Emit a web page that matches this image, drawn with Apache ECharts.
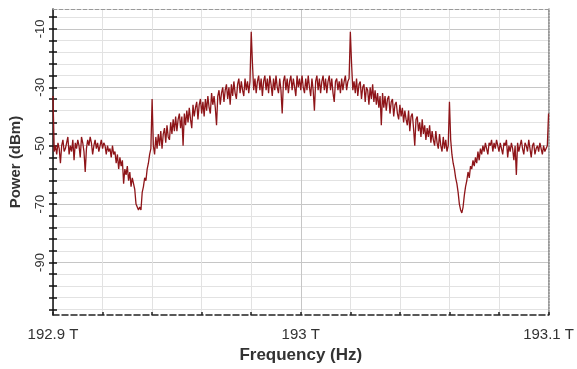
<!DOCTYPE html>
<html>
<head>
<meta charset="utf-8">
<script src="https://cdn.jsdelivr.net/npm/echarts@6/dist/echarts.min.js"></script>
<style>
html,body{margin:0;padding:0;background:#fff;}
#chart{width:577px;height:369px;}
</style>
</head>
<body>
<div id="chart"></div>
<script>
// Spectrum sampled every 0.0005 THz from 192.9 THz to 193.1 THz
const freqStartTHz = 192.9;
const freqStepTHz = 0.0005;
const powerDbm = [
  -33, -52, -50, -53, -49, -51, -56, -50, -48, -52, -51, -49, -47, -53, -50, -52, -48, -55, -49, -51,
  -48, -50, -54, -47, -49, -52, -59, -51, -48, -50, -47, -49, -53, -50, -48, -51, -49, -52, -50, -48,
  -51, -49, -50, -53, -50, -52, -51, -54, -50, -53, -52, -56, -53, -58, -54, -57, -55, -63, -58, -60,
  -57, -62, -59, -64, -61, -63, -65, -70, -71, -72, -71, -72, -66, -64, -61, -62, -58, -56, -53, -51,
  -34, -50, -53, -47, -51, -46, -50, -45, -51, -46, -44, -49, -43, -47, -48, -42, -46, -41, -45, -40,
  -45, -41, -39, -44, -40, -50, -39, -43, -38, -42, -37, -41, -44, -36, -40, -37, -35, -41, -36, -34,
  -39, -35, -40, -34, -38, -33, -37, -39, -32, -36, -33, -37, -43, -33, -31, -36, -32, -30, -35, -31,
  -29, -34, -30, -36, -29, -33, -28, -32, -34, -29, -27, -32, -28, -31, -33, -27, -31, -28, -32, -28,
  -11, -22, -31, -27, -32, -28, -26, -31, -27, -33, -28, -26, -31, -27, -32, -26, -29, -33, -27, -31,
  -26, -30, -32, -27, -31, -39, -28, -26, -31, -27, -32, -28, -26, -31, -27, -30, -33, -26, -30, -27,
  -31, -26, -30, -32, -27, -31, -26, -30, -33, -27, -31, -38, -28, -26, -31, -27, -32, -28, -26, -31,
  -27, -32, -28, -26, -31, -27, -32, -35, -28, -27, -31, -28, -32, -27, -31, -28, -26, -31, -28, -27,
  -11, -22, -31, -28, -32, -27, -33, -29, -28, -34, -30, -29, -35, -30, -31, -36, -30, -34, -29, -35,
  -31, -36, -32, -37, -33, -43, -32, -37, -33, -38, -34, -33, -39, -35, -34, -40, -36, -35, -39, -41,
  -36, -40, -37, -42, -38, -41, -43, -38, -45, -40, -39, -44, -50, -41, -40, -45, -42, -47, -41, -46,
  -43, -48, -44, -47, -43, -49, -45, -48, -50, -45, -49, -51, -46, -50, -52, -47, -51, -48, -52, -50,
  -35, -48, -53, -56, -58, -61, -63, -66, -70, -72, -73, -71, -67, -64, -62, -59, -61, -57, -58, -55,
  -57, -54, -56, -52, -55, -51, -53, -50, -52, -49, -51, -53, -49, -50, -48, -52, -49, -51, -48, -50,
  -52, -49, -51, -53, -49, -50, -48, -54, -50, -52, -49, -51, -55, -50, -60, -49, -52, -50, -48, -51,
  -53, -49, -50, -52, -48, -51, -54, -50, -49, -53, -51, -50, -52, -49, -51, -53, -50, -52, -51, -50,
  -39
];
const xTickValues = [192.9, 192.92, 192.94, 192.96, 192.98, 193.0, 193.02, 193.04, 193.06, 193.08, 193.1];
const xLabelValues = [192.9, 193.0, 193.1];
const yTickValues = [-106, -102, -98, -94, -90, -86, -82, -78, -74, -70, -66, -62, -58, -54, -50, -46, -42, -38, -34, -30, -26, -22, -18, -14, -10, -6];
const yLabelValues = [-90, -70, -50, -30, -10];

const seriesData = powerDbm.map((v, i) => [+(freqStartTHz + i * freqStepTHz).toFixed(5), v]);

const FONT = 'Liberation Sans, Arial, sans-serif';
const yMin = -108, yMax = -3.2;

const chart = echarts.init(document.getElementById('chart'), null, {renderer: 'canvas'});
chart.setOption({
  animation: false,
  backgroundColor: '#ffffff',
  grid: {left: 52, right: 24, top: 9, bottom: 50, containLabel: false},
  xAxis: [{
    type: 'value',
    min: 192.9, max: 193.1,
    position: 'bottom',
    axisLine: {show: true, onZero: false, lineStyle: {color: '#222', type: 'dashed', width: 1.5}},
    axisTick: {show: true, inside: true, length: 3, customValues: xTickValues, lineStyle: {color: '#222', width: 1.5}},
    axisLabel: {show: true, customValues: xLabelValues, margin: 12, fontSize: 15, fontFamily: FONT, color: '#333',
      formatter: v => (Math.round(v * 10) / 10) + ' T'},
    splitLine: {show: true, lineStyle: {color: ['#c6c6c6', '#e2e2e2', '#e2e2e2', '#e2e2e2', '#e2e2e2'], width: 1}},
    name: 'Frequency (Hz)', nameLocation: 'middle', nameGap: 31,
    nameTextStyle: {fontSize: 17, fontWeight: 'bold', fontFamily: FONT, color: '#333'}
  }, {
    type: 'value',
    min: 192.9, max: 193.1,
    position: 'top',
    axisLine: {show: true, onZero: false, lineStyle: {color: '#999', type: 'dashed', width: 1}},
    axisTick: {show: false}, axisLabel: {show: false}, splitLine: {show: false}
  }],
  yAxis: [{
    type: 'value',
    min: yMin, max: yMax,
    position: 'left',
    axisLine: {show: true, onZero: false, lineStyle: {color: '#111', width: 1.5}},
    axisTick: {show: true, length: 4, customValues: yTickValues, lineStyle: {color: '#111', width: 1.5}},
    axisLabel: {show: true, customValues: yLabelValues, rotate: 90, margin: 6, fontSize: 13, fontFamily: FONT, color: '#333'},
    splitLine: {show: true, lineStyle: {color: ['#e2e2e2', '#e2e2e2', '#e2e2e2', '#e2e2e2', '#c6c6c6'], width: 1}},
    name: 'Power (dBm)', nameLocation: 'middle', nameGap: 30,
    nameTextStyle: {fontSize: 15, fontWeight: 'bold', fontFamily: FONT, color: '#333'}
  }, {
    type: 'value',
    min: yMin, max: yMax,
    position: 'left',
    axisLine: {show: false},
    axisTick: {show: true, inside: true, length: 4, customValues: yTickValues, lineStyle: {color: '#111', width: 1.5}},
    axisLabel: {show: false}, splitLine: {show: false}
  }, {
    type: 'value',
    min: yMin, max: yMax,
    position: 'right',
    axisLine: {show: true, onZero: false, lineStyle: {color: '#888', type: 'dotted', width: 1.5}},
    axisTick: {show: false}, axisLabel: {show: false}, splitLine: {show: false}
  }],
  series: [{
    type: 'line',
    xAxisIndex: 0,
    yAxisIndex: 0,
    data: seriesData,
    showSymbol: false,
    symbol: 'none',
    lineStyle: {color: '#8e1519', width: 1.3},
    z: 5
  }]
});
</script>
</body>
</html>
